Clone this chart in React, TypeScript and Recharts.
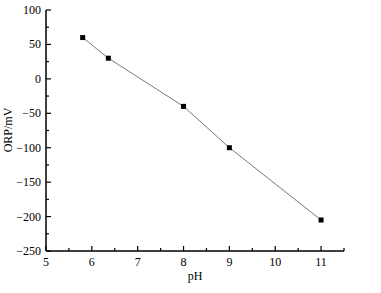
import React from 'react';
import { LineChart, Line, XAxis, YAxis } from 'recharts';

const phValues = [5.8, 6.36, 8, 9, 11];
const orpValues = [60, 30, -40, -100, -205];
const xTicks = [5, 5.5, 6, 6.5, 7, 7.5, 8, 8.5, 9, 9.5, 10, 10.5, 11, 11.5];
const yTicks = [-250, -225, -200, -175, -150, -125, -100, -75, -50, -25, 0, 25, 50, 75, 100];

const data = phValues.map((ph, i) => ({ ph, orp: orpValues[i] }));

const FONT = '"Liberation Serif", "Times New Roman", serif';

const fmt = (v: number) => (v < 0 ? '\u2212' + Math.abs(v) : String(v));

const XTick = (props: any) => {
  const { x, y, payload } = props;
  const v = payload.value as number;
  const major = Number.isInteger(v);
  return (
    <g>
      <line x1={x} x2={x} y1={y} y2={y - (major ? 5 : 3)} stroke="#000" strokeWidth={1.2} />
      {major && (
        <text x={x} y={y + 15} textAnchor="middle" fontSize={12} fontFamily={FONT} fill="#000">
          {v}
        </text>
      )}
    </g>
  );
};

const YTick = (props: any) => {
  const { x, y, payload } = props;
  const v = payload.value as number;
  const major = v % 50 === 0;
  return (
    <g>
      <line x1={x} x2={x + (major ? 5 : 3)} y1={y} y2={y} stroke="#000" strokeWidth={1.2} />
      {major && (
        <text x={x - 5} y={y + 4} textAnchor="end" fontSize={12} fontFamily={FONT} fill="#000">
          {fmt(v)}
        </text>
      )}
    </g>
  );
};

const SquareDot = (props: any) => {
  const { cx, cy } = props;
  if (cx == null || cy == null) return null;
  return <rect x={cx - 2.5} y={cy - 2.5} width={5} height={5} fill="#000" />;
};

export default function App() {
  return (
    <div style={{ position: 'absolute', left: 0, top: 0, background: '#fff' }}>
      <LineChart
        width={381}
        height={293}
        data={data}
        margin={{ top: 10, right: 37, bottom: 0, left: 0 }}
      >
        <XAxis
          dataKey="ph"
          type="number"
          domain={[5, 11.5]}
          ticks={xTicks}
          interval={0}
          height={42}
          tickSize={0}
          tickMargin={0}
          tickLine={false}
          tick={<XTick />}
          axisLine={{ stroke: '#000', strokeWidth: 1.5 }}
          label={(p: any) => {
            const vb = p.viewBox;
            return (
              <text x={vb.x + vb.width / 2} y={vb.y + 29} textAnchor="middle" fontSize={12} fontFamily={FONT} fill="#000">
                pH
              </text>
            );
          }}
        />
        <YAxis
          type="number"
          domain={[-250, 100]}
          ticks={yTicks}
          interval={0}
          width={46}
          tickSize={0}
          tickMargin={0}
          tickLine={false}
          tick={<YTick />}
          axisLine={{ stroke: '#000', strokeWidth: 1.5 }}
          label={() => {
            const cx = 12;
            const cy = 130;
            return (
              <text x={cx} y={cy} textAnchor="middle" fontSize={12} fontFamily={FONT} fill="#000" transform={`rotate(-90 ${cx} ${cy})`}>
                ORP/mV
              </text>
            );
          }}
        />
        <Line
          dataKey="orp"
          stroke="#555"
          strokeWidth={0.8}
          dot={<SquareDot />}
          activeDot={false}
          isAnimationActive={false}
        />
      </LineChart>
    </div>
  );
}
